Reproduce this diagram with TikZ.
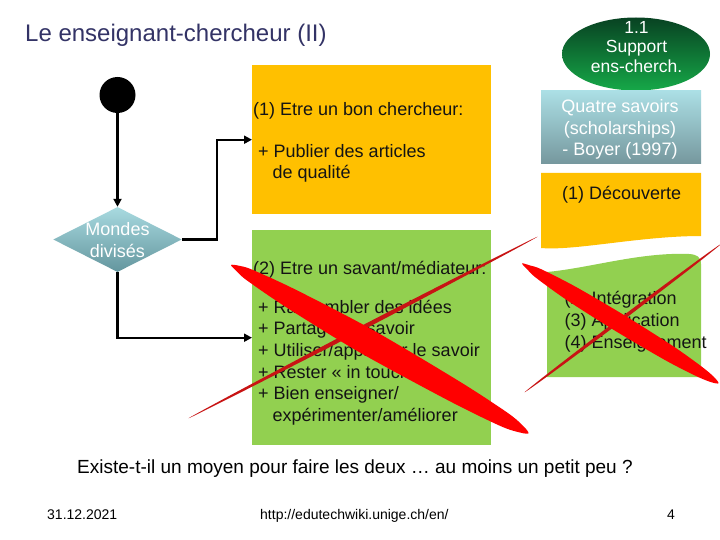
\documentclass[tikz,border=0pt]{standalone}
\usepackage{fontspec}
\setmainfont{Liberation Sans}
\usetikzlibrary{shapes.geometric,arrows.meta}
\definecolor{titleblue}{RGB}{51,51,102}
\definecolor{gold}{RGB}{255,192,0}
\definecolor{leaf}{RGB}{146,208,80}
\definecolor{tealtop}{RGB}{172,224,230}
\definecolor{tealbot}{RGB}{118,152,158}
\definecolor{diatop}{RGB}{168,218,224}
\definecolor{diabot}{RGB}{100,150,158}
\definecolor{elltop}{RGB}{8,66,34}
\definecolor{ellbot}{RGB}{22,168,72}
\definecolor{brushred}{RGB}{255,0,0}
\definecolor{thinred}{RGB}{200,20,20}
\definecolor{ink}{RGB}{20,20,20}
\newcommand{\lstack}[2][21.7pt]{\vtop{\baselineskip=#1\lineskiplimit=-20pt\lineskip=0pt\halign{##\hfil\cr#2\crcr}}}
\newcommand{\cstack}[2][21.7pt]{\vtop{\baselineskip=#1\lineskiplimit=-20pt\lineskip=0pt\halign{\hfil##\hfil\cr#2\crcr}}}
\tikzset{
  conn/.style={line width=2.2pt, draw=black, -{Triangle[length=8pt,width=8pt]}},
  ltxt/.style={inner sep=0pt, anchor=base west, text=ink, font=\fontsize{18}{21.7}\selectfont},
  ctxt/.style={inner sep=0pt, anchor=base, text=white, font=\fontsize{17.5}{21}\selectfont},
  panel/.style={rectangle, inner sep=0pt, draw=none, anchor=north west},
  foot/.style={inner sep=0pt, anchor=base west, text=black, font=\fontsize{14}{16}\selectfont},
}
\begin{document}
\begin{tikzpicture}[x=1pt,y=-1pt]
\useasboundingbox (0,0) rectangle (720,540);
\fill[white] (0,0) rectangle (720,540);

% title
\node[anchor=base west, inner sep=0pt, text=titleblue, font=\fontsize{24}{28}\selectfont] (title) at (25,41.7) {Le enseignant-chercheur (II)};

% left flow
\node[circle, fill=black, minimum size=36pt, inner sep=0pt] (start) at (117.5,95) {};
\node[diamond, top color=diatop, bottom color=diabot, draw=none, minimum width=128.5pt, minimum height=65pt, inner sep=0pt] (dia) at (117.5,239.5) {};
\node[ctxt, font=\fontsize{18}{21}\selectfont] (diatext) at (117.5,236) {\cstack{Mondes\cr divisés}};

% main panels
\node[panel, fill=gold, minimum width=239pt, minimum height=149pt] (orange) at (252,65) {};
\node[panel, fill=leaf, minimum width=239pt, minimum height=215pt] (green) at (252,230) {};

% connectors
\draw[conn] (start) -- (dia);
\draw[conn] (dia.east) -- ++(35,0) |- (orange.west);
\draw[conn] (dia.south) |- (green.west);

% texts of main panels
\node[ltxt] (o1) at (253,116) {(1) Etre un bon chercheur:};
\node[ltxt] (o2) at (258,158) {\lstack[21pt]{+ Publier des articles\cr \hspace{14.5pt}de qualité}};
\node[ltxt] (g1) at (253,274.5) {(2) Etre un savant/médiateur:};
\node[ltxt] (g2) at (258,313) {\lstack{+ Rassembler des idées\cr + Partager le savoir\cr + Utiliser/appliquer le savoir\cr + Rester « in touch »\cr + Bien enseigner/\cr \hspace{14.5pt}expérimenter/améliorer}};

% right column
\node[ellipse, top color=elltop, bottom color=ellbot, draw=none, minimum width=148pt, minimum height=73pt, inner sep=0pt] (support) at (636,54) {};
\node[ctxt] (supporttext) at (636.5,33.5) {\cstack[19.4pt]{1.1\cr Support\cr ens-cherch.}};

\node[panel, top color=tealtop, bottom color=tealbot, minimum width=160pt, minimum height=73pt] (savoirs) at (541,90) {};
\node[ctxt, font=\fontsize{18}{21}\selectfont] (savoirstext) at (620,113) {\cstack[21.5pt]{Quatre savoirs\cr (scholarships)\cr - Boyer (1997)}};

\fill[gold] (541,173) -- (701,173) -- (701,236) .. controls (640,236) and (575,251) .. (541,248) -- cycle;
\node[ltxt] (decouverte) at (562,200) {(1) Découverte};

\fill[leaf] (547,272) .. controls (590,268) and (640,252) .. (689,254) .. controls (697,254.5) and (701,257) .. (701,264) -- (701,377) -- (547,377) -- cycle;
\node[ltxt] (autres) at (564.5,304.5) {\lstack[22pt]{(2) Intégration\cr (3) Application\cr (4) Enseignement}};

% red crosses
\fill[thinred] plot[smooth cycle, tension=0.5] coordinates {(188.5,418.3) (241.75,391.9) (364.0,329.45) (485.35,265.2) (537.5,236.7) (484.25,263.1) (362.0,325.55) (240.65,389.8)};
\fill[brushred] plot[smooth cycle, tension=0.5] coordinates {(231,265) (236.4,271.0) (246.8,280.3) (286.3,307.3) (358.8,351.9) (448.6,400.6) (500.6,426.1) (520.4,432.6) (528.5,433.3) (523.8,426.6) (508.0,413.1) (459.4,381.4) (371.6,329.3) (296.1,289.9) (252.7,269.9) (239.4,265.8)};
\fill[thinred] plot[smooth cycle, tension=0.5] coordinates {(524.6,392.3) (555.1,370.7) (624.1,319.4) (692.3,267.1) (721.5,243.6) (690.9,265.3) (621.9,316.6) (553.7,368.9)};
\fill[brushred] plot[smooth cycle, tension=0.5] coordinates {(522,263.4) (527.55,269.7) (536.0,277.8) (567.6,300.6) (615.8,331.2) (665.1,360.1) (695.6,375.8) (710.6,382.0) (718.5,383.3) (713.8,376.8) (701.4,366.4) (673.4,346.4) (625.2,315.8) (575.9,286.9) (541.2,269.2) (530.15,265.5)};

% question and footer
\node[inner sep=0pt, anchor=base, text=black, font=\fontsize{19}{22}\selectfont] (question) at (355,473.5) {Existe-t-il un moyen pour faire les deux … au moins un petit peu ?};
\node[foot] (date) at (47,519) {31.12.2021};
\node[foot] (url) at (260,519) {http://edutechwiki.unige.ch/en/};
\node[foot] (page) at (667,519) {4};
\end{tikzpicture}
\end{document}
